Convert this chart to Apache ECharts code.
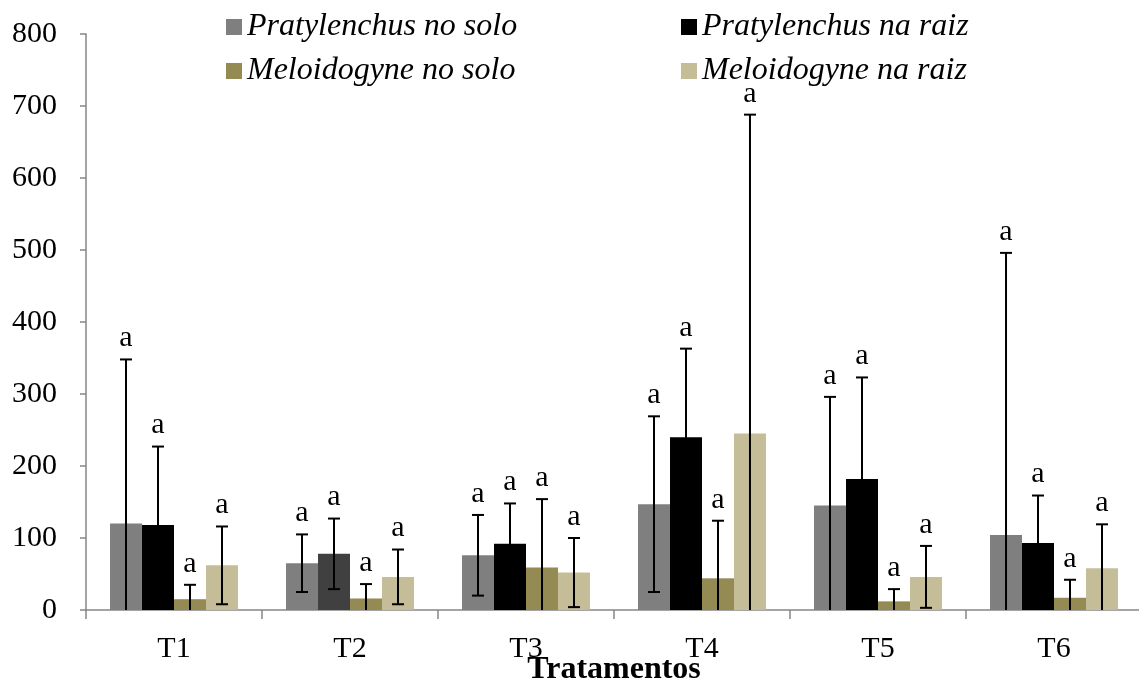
<!DOCTYPE html>
<html>
<head>
<meta charset="utf-8">
<title>Nematoides por tratamento</title>
<script src="https://cdn.jsdelivr.net/npm/echarts@6/dist/echarts.min.js"></script>
<style>
  html, body { margin: 0; padding: 0; background: #ffffff; }
  #chart { width: 1139px; height: 686px; }
</style>
</head>
<body>
<div id="chart"></div>
<script>
// Treatments on the category axis
const categories = ['T1', 'T2', 'T3', 'T4', 'T5', 'T6'];

// Series names
const seriesNames = [
  'Pratylenchus no solo',
  'Pratylenchus na raiz',
  'Meloidogyne no solo',
  'Meloidogyne na raiz'
];

// Means per treatment
const pratSolo = [120, 65, 76, 147, 145, 104];
const pratRaiz = [118, 78, 92, 240, 182, 93];
const meloSolo = [15, 16, 59, 44, 12, 17];
const meloRaiz = [62, 46, 52, 245, 46, 58];

// Standard deviations per treatment
const pratSoloErr = [228, 40, 56, 122, 151, 392];
const pratRaizErr = [109, 49, 56, 123, 141, 66];
const meloSoloErr = [20, 20, 95, 80, 17, 25];
const meloRaizErr = [54, 38, 48, 443, 43, 61];

// Significance letters (Tukey)
const pratSoloLetters = ['a', 'a', 'a', 'a', 'a', 'a'];
const pratRaizLetters = ['a', 'a', 'a', 'a', 'a', 'a'];
const meloSoloLetters = ['a', 'a', 'a', 'a', 'a', 'a'];
const meloRaizLetters = ['a', 'a', 'a', 'a', 'a', 'a'];

// Y axis ticks
const yTicks = [0, 100, 200, 300, 400, 500, 600, 700, 800];

const colors = ['#7f7f7f', '#000000', '#948a54', '#c4bd97'];
const values = [pratSolo, pratRaiz, meloSolo, meloRaiz];
const errors = [pratSoloErr, pratRaizErr, meloSoloErr, meloRaizErr];
const letters = [pratSoloLetters, pratRaizLetters, meloSoloLetters, meloRaizLetters];

const FONT = '"Liberation Serif", "Times New Roman", serif';
const CAT_GAP = 0.273;
const N = values.length;

const barSeries = values.map((vals, s) => ({
  name: seriesNames[s],
  type: 'bar',
  barGap: '0%',
  barCategoryGap: (CAT_GAP * 100) + '%',
  itemStyle: { color: colors[s] },
  data: vals.map((v, i) => {
    // T2 root bar drawn in dark grey
    if (s === 1 && i === 1) return { value: v, itemStyle: { color: '#404040' } };
    return v;
  }),
  z: 2
}));

const errorSeries = values.map((vals, s) => ({
  type: 'custom',
  name: seriesNames[s] + ' erro',
  z: 5,
  clip: false,
  silent: true,
  data: vals.map((v, i) => [i, v, errors[s][i], letters[s][i]]),
  renderItem: function (params, api) {
    const i = api.value(0);
    const v = api.value(1);
    const e = api.value(2);
    const letter = letters[s][params.dataIndex];
    const catW = api.size([1, 0])[0];
    const barW = catW * (1 - CAT_GAP) / N;
    const x = api.coord([i, 0])[0] + (s - (N - 1) / 2) * barW;
    const yTop = api.coord([i, v + e])[1];
    const lowVal = Math.max(0, v - e);
    const yLow = api.coord([i, lowVal])[1];
    const cap = 6;
    const st = { stroke: '#000000', lineWidth: 2 };
    const children = [
      { type: 'line', shape: { x1: x, y1: yTop, x2: x, y2: yLow }, style: st },
      { type: 'line', shape: { x1: x - cap, y1: yTop, x2: x + cap, y2: yTop }, style: st }
    ];
    if (v - e > 0) {
      children.push({ type: 'line', shape: { x1: x - cap, y1: yLow, x2: x + cap, y2: yLow }, style: st });
    }
    children.push({
      type: 'text',
      style: {
        x: x, y: yTop - 6,
        text: letter,
        align: 'center',
        verticalAlign: 'bottom',
        fontFamily: FONT,
        fontSize: 30,
        fill: '#000000'
      }
    });
    return { type: 'group', children: children };
  }
}));

const legendText = {
  fontFamily: FONT,
  fontStyle: 'italic',
  fontSize: 32,
  lineHeight: 30,
  color: '#000000'
};

const chart = echarts.init(document.getElementById('chart'), null, { renderer: 'canvas' });
chart.setOption({
  animation: false,
  backgroundColor: '#ffffff',
  legend: [
    {
      orient: 'vertical',
      left: 221, top: 6,
      itemWidth: 16, itemHeight: 16, itemGap: 12,
      icon: 'rect',
      textStyle: legendText,
      data: [seriesNames[0], seriesNames[2]]
    },
    {
      orient: 'vertical',
      left: 676, top: 6,
      itemWidth: 16, itemHeight: 16, itemGap: 12,
      icon: 'rect',
      textStyle: legendText,
      data: [seriesNames[1], seriesNames[3]]
    }
  ],
  grid: {
    left: 86, top: 34, width: 1056, height: 576,
    containLabel: false,
    outerBoundsMode: 'none'
  },
  xAxis: {
    type: 'category',
    data: categories,
    name: 'Tratamentos',
    nameLocation: 'middle',
    nameGap: 44,
    nameMoveOverlap: false,
    nameTextStyle: { fontFamily: FONT, fontSize: 32, fontWeight: 'bold', color: '#000000' },
    axisLine: { lineStyle: { color: '#868686', width: 1.5 } },
    axisTick: { show: true, length: 9, lineStyle: { color: '#868686', width: 1.5 } },
    axisLabel: { fontFamily: FONT, fontSize: 30, color: '#000000', margin: 24 },
    splitLine: { show: false }
  },
  yAxis: {
    type: 'value',
    min: yTicks[0],
    max: yTicks[yTicks.length - 1],
    interval: yTicks[1] - yTicks[0],
    axisLine: { show: true, lineStyle: { color: '#868686', width: 1.5 } },
    axisTick: { show: true, length: 6, lineStyle: { color: '#868686', width: 1.5 } },
    axisLabel: { fontFamily: FONT, fontSize: 30, color: '#000000', margin: 29 },
    splitLine: { show: false }
  },
  series: barSeries.concat(errorSeries)
});
</script>
</body>
</html>
